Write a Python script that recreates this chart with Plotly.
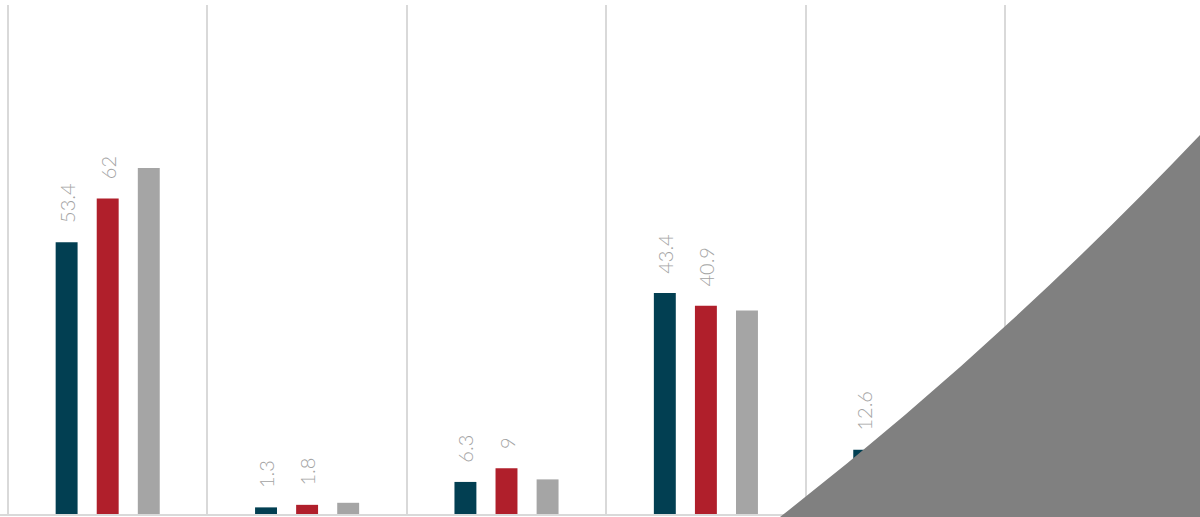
import plotly.graph_objects as go

# Six groups, three series each
categories = ["G1", "G2", "G3", "G4", "G5", "G6"]
series_a = [53.4, 1.3, 6.3, 43.4, 12.6, 20.2]
series_b = [62.0, 1.8, 9.0, 40.9, 7.4, 18.7]
series_c = [68.0, 2.2, 6.8, 40.0, 9.5, 22.4]
labels_a = [True, True, True, True, True, True]
labels_b = [True, True, True, True, True, True]

colors = ["#023f52", "#b01f2b", "#a5a5a5"]
bar_w = 0.11
offset = 0.206
pos = list(range(len(categories)))

# label text padded so it floats a little above the bar end
pad = "\u00a0\u00a0\u00a0"

fig = go.Figure()
for k, (vals, show) in enumerate([(series_a, labels_a), (series_b, labels_b), (series_c, None)]):
    xs = [p + (k - 1) * offset for p in pos]
    texts = None
    if show is not None:
        texts = [pad + f"{v:g}" if s else "" for v, s in zip(vals, show)]
    fig.add_trace(go.Bar(
        x=xs, y=vals, width=bar_w,
        marker=dict(color=colors[k], line=dict(width=0)),
        text=texts,
        textposition="outside" if texts else "none",
        textangle=-90,
        constraintext="none",
        cliponaxis=False,
        textfont=dict(family="Lato", size=20, color="#a3a3a3", weight=300),
        hoverinfo="skip",
    ))

# category separators
sep = [p - 0.5 for p in pos] + [pos[-1] + 0.5]
cat_px = 199.4
x0 = -0.5 - 8 / cat_px
x1 = x0 + 1200 / cat_px

fig.update_layout(
    width=1200, height=517,
    margin=dict(l=0, r=0, t=5, b=3),
    paper_bgcolor="white", plot_bgcolor="white",
    showlegend=False,
    barmode="overlay",
    xaxis=dict(range=[x0, x1], tickvals=sep, showticklabels=False,
               showgrid=True, gridcolor="#d9d9d9", gridwidth=2,
               showline=True, linecolor="#d9d9d9", linewidth=2,
               zeroline=False, ticks=""),
    yaxis=dict(range=[0, 100], showgrid=False, showticklabels=False,
               zeroline=False, showline=False, ticks=""),
)

# folded page corner in the lower right
fig.add_shape(
    type="path", xref="paper", yref="paper",
    path="M 0.65,-0.02 L 0.65,-0.0059 Q 0.8317,0.3281 1.0,0.7446 L 1.01,0.7446 L 1.01,-0.02 Z",
    fillcolor="#808080", line=dict(width=0), layer="above",
)

fig.write_html("out.html")
